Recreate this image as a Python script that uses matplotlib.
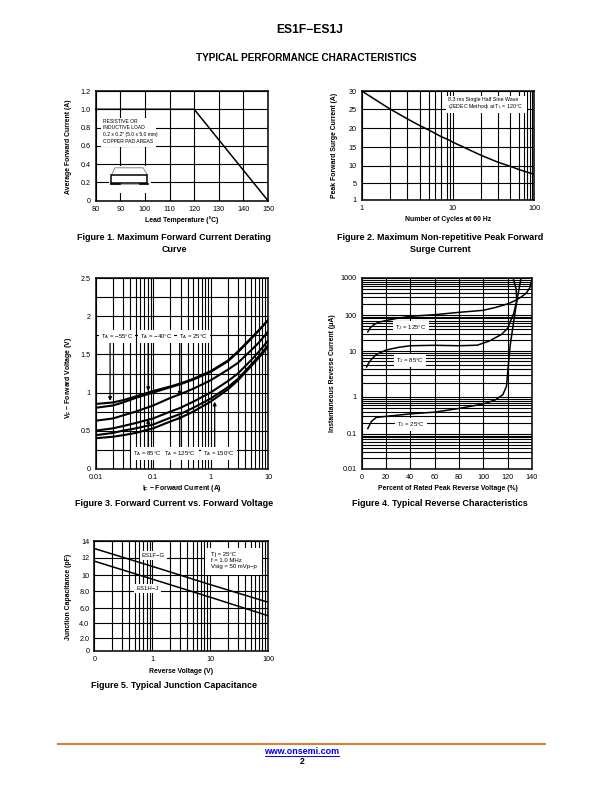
import numpy as np
import matplotlib
matplotlib.use("Agg")
import matplotlib.pyplot as plt
from matplotlib.patches import Rectangle

plt.rcParams['font.family'] = ['Liberation Sans', 'DejaVu Sans']
plt.rcParams['mathtext.default'] = 'regular'
plt.rcParams['axes.unicode_minus'] = False

# ---------- data ----------
fig1_temp = [80, 120, 150]
fig1_current = [1.0, 1.0, 0.0]

fig2_cycles = [1, 2, 3, 4, 5, 6, 7, 8, 9, 10, 20, 30, 40, 50, 100]
fig2_surge = [30, 25.1, 22.5, 20.7, 19.5, 18.7, 17.9, 17.2, 16.8, 16.4, 12.9, 11.0, 9.9, 9.0, 7.6]

fig3_current = [0.01, 0.02, 0.03, 0.05, 0.1, 0.2, 0.3, 0.5, 1, 2, 3, 5, 7, 10]
fig3_m55 = [0.85, 0.87, 0.90, 0.95, 1.02, 1.08, 1.12, 1.18, 1.28, 1.42, 1.54, 1.71, 1.82, 1.95]
fig3_m40 = [0.80, 0.83, 0.87, 0.93, 1.00, 1.07, 1.11, 1.17, 1.27, 1.41, 1.53, 1.70, 1.82, 1.95]
fig3_25 = [0.63, 0.66, 0.70, 0.75, 0.83, 0.93, 0.98, 1.05, 1.16, 1.30, 1.39, 1.55, 1.66, 1.80]
fig3_85 = [0.50, 0.53, 0.56, 0.60, 0.66, 0.75, 0.80, 0.88, 1.00, 1.15, 1.25, 1.42, 1.54, 1.68]
fig3_125 = [0.44, 0.47, 0.50, 0.53, 0.58, 0.67, 0.72, 0.80, 0.92, 1.07, 1.18, 1.36, 1.48, 1.62]
fig3_150 = [0.40, 0.42, 0.44, 0.47, 0.53, 0.62, 0.67, 0.75, 0.88, 1.04, 1.16, 1.34, 1.46, 1.60]

fig4_x125 = [5, 7, 10, 14, 20, 30, 40, 60, 80, 100, 110, 120, 125, 130, 135, 138, 140]
fig4_y125 = [34, 44, 54, 63, 70, 82, 92, 102, 118, 134, 160, 200, 235, 290, 380, 530, 900]
fig4_x85 = [4, 6, 8, 12, 20, 30, 40, 60, 80, 95, 105, 115, 120, 125, 128, 131]
fig4_y85 = [4.5, 5.6, 6.6, 8.4, 10.6, 12.6, 14, 14.4, 14, 14.5, 19, 29, 43, 112, 290, 1000]
fig4_x25 = [5, 8, 12, 20, 40, 60, 80, 100, 110, 116, 119, 120, 122, 124, 126, 127.5, 127, 124.5]
fig4_y25 = [0.14, 0.22, 0.28, 0.30, 0.35, 0.39, 0.49, 0.65, 0.84, 1.12, 1.7, 3.4, 13.8, 40, 112, 235, 500, 1000]

fig5_volt = [0.1, 1, 10, 100]
fig5_fg = [13.1, 11.0, 8.83, 6.7]
fig5_hj = [11.6, 9.5, 7.3, 5.0]

W, H = 612, 792
fig = plt.figure(figsize=(W / 100, H / 100), dpi=100, facecolor='white')


def make_ax(x0, x1, y0, y1):
    ax = fig.add_axes([x0 / W, 1 - y1 / H, (x1 - x0) / W, (y1 - y0) / H])
    for s in ax.spines.values():
        s.set_linewidth(1.1)
    ax.tick_params(which='both', length=0, labelsize=5.2, pad=3.5)
    ax.set_axisbelow(True)
    ax.grid(which='both', color='black', lw=0.8)
    return ax


def ptext(x, y, s, **kw):
    kw.setdefault('ha', 'center')
    kw.setdefault('va', 'center')
    return fig.text(x / W, 1 - y / H, s, **kw)


def label(x, y, s, fs=4.98):
    ptext(x, y, s, fontsize=fs, fontweight='bold')


def ylab(x, y, s):
    ptext(x, y, s, fontsize=4.98, fontweight='bold', rotation=90)


def caption(x, y, s):
    ptext(x, y, s, fontsize=6.45, fontweight='bold')


def note(ax, x, y, s, fs=4.3, **kw):
    kw.setdefault('ha', 'center')
    kw.setdefault('va', 'center')
    ax.text(x, y, s, transform=ax.transAxes, fontsize=fs, zorder=6,
            bbox=dict(fc='white', ec='none', pad=1.5), **kw)


def warp(ax, axis, values, positions, log=False):
    """Scale following the hand-drawn, uneven spacing of the original grids."""
    v = np.array(values, float)
    p = np.array(positions, float)
    if log:
        v = np.log10(v)

    def fwd(a):
        a = np.asarray(a, float)
        if log:
            a = np.log10(np.maximum(a, 1e-12))
        return np.interp(a, v, p)

    def inv(a):
        r = np.interp(np.asarray(a, float), p, v)
        return 10 ** r if log else r
    (ax.set_xscale if axis == 'x' else ax.set_yscale)('function', functions=(fwd, inv))


def log_minor(lo, hi):
    return [m * 10.0 ** e for e in range(lo, hi) for m in range(2, 10)]


# ---------- page ----------
ptext(310, 30, 'ES1F\u2212ES1J', fontsize=8.7, fontweight='bold')
ptext(306, 57.7, 'TYPICAL PERFORMANCE CHARACTERISTICS', fontsize=7.2, fontweight='bold')
fig.add_artist(plt.Line2D([58 / W, 545 / W], [1 - 744 / H] * 2, color='#d98032', lw=1.5))
ptext(302, 752, 'www.onsemi.com', fontsize=6.4, fontweight='bold', color='#0000ee')
fig.add_artist(plt.Line2D([265 / W, 339 / W], [1 - 756 / H] * 2, color='#0000ee', lw=0.7))
ptext(302, 762, '2', fontsize=6.2, fontweight='bold')

# ---------- figure 1 ----------
ax = make_ax(95.7, 268, 91, 200.7)
ax.set_xlim(80, 150)
ax.set_ylim(0, 1.2)
ax.set_xticks(range(80, 151, 10))
ax.set_yticks([0, .2, .4, .6, .8, 1.0, 1.2])
ax.set_yticklabels(['0', '0.2', '0.4', '0.6', '0.8', '1.0', '1.2'])
ax.plot(fig1_temp, fig1_current, color='black', lw=1.1, zorder=3, clip_on=False)
ax.add_patch(Rectangle((0.03, 0.49), 0.32, 0.26, transform=ax.transAxes, fc='white', ec='none', zorder=2))
ax.add_patch(Rectangle((0.08, 0.07), 0.24, 0.25, transform=ax.transAxes, fc='white', ec='none', zorder=2))
for i, s in enumerate(['RESISTIVE OR', 'INDUCTIVE LOAD',
                       '0.2 x 0.2" (5.0 x 5.0 mm)', 'COPPER PAD AREAS']):
    ax.text(0.045, 0.725 - i * 0.062, s, transform=ax.transAxes, fontsize=3.6, va='center', zorder=6)
t = ax.transAxes
ax.plot([.092, .112, .275, .30], [.235, .30, .30, .235], color='#777777', lw=.6, transform=t, zorder=4)
ax.add_patch(Rectangle((.09, .16), .21, .07, transform=t, fc='none', ec='black', lw=1.1, zorder=4))
ax.plot([.09, .30], [.155, .155], color='#aaaaaa', lw=.8, transform=t, zorder=4)
ax.plot([.09, .14], [.155, .155], color='black', lw=1.2, transform=t, zorder=5)
ax.plot([.255, .305], [.155, .155], color='black', lw=1.2, transform=t, zorder=5)
label(182, 220, 'Lead Temperature (\u00b0C)')
ylab(69, 147, 'Average Forward Current (A)')
caption(174, 238, 'Figure 1. Maximum Forward Current Derating')
caption(174, 249, 'Curve')

# ---------- figure 2 ----------
ax = make_ax(361.7, 534, 91, 200)
warp(ax, 'x', [1, 2, 3, 4, 5, 6, 7, 8, 9, 10, 20, 30, 40, 50, 60, 70, 80, 90, 100],
     [125, 210, 262, 300, 328, 345, 362, 380, 390, 398, 483, 535, 572, 597, 612, 622, 630, 637, 643], log=True)
warp(ax, 'y', [1, 5, 10, 15, 20, 25, 30], [-360, -310, -258, -202, -145, -88, -33])
ax.set_xlim(1, 100)
ax.set_ylim(1, 30)
ax.set_xticks([1, 10, 100])
ax.set_xticklabels(['1', '10', '100'])
ax.set_xticks(log_minor(0, 2), minor=True)
ax.set_xticklabels([], minor=True)
ax.set_yticks([1, 5, 10, 15, 20, 25, 30])
ax.set_yticklabels(['1', '5', '10', '15', '20', '25', '30'])
ax.plot(fig2_cycles, fig2_surge, color='black', lw=1.1, zorder=3)
ax.add_patch(Rectangle((.49, .80), .47, .155, transform=ax.transAxes, fc='white', ec='none', zorder=2))
ax.text(.503, .924, '8.3 ms Single Half Sine Wave', transform=ax.transAxes,
        fontsize=3.75, ha='left', va='center', zorder=6)
ax.text(.503, .858, '(JEDEC Method) at T$_L$ = 120\u00b0C', transform=ax.transAxes,
        fontsize=3.75, ha='left', va='center', zorder=6)
label(448, 219.5, 'Number of Cycles at 60 Hz')
ylab(334.5, 145, 'Peak Forward Surge Current (A)')
caption(440, 238, 'Figure 2. Maximum Non-repetitive Peak Forward')
caption(440, 249, 'Surge Current')

# ---------- figure 3 ----------
ax = make_ax(95.7, 268, 278.3, 468.7)
ax.set_xscale('log')
ax.set_xlim(0.01, 10)
ax.set_ylim(0, 2.5)
ax.set_xticks([0.01, 0.1, 1, 10])
ax.set_xticklabels(['0.01', '0.1', '1', '10'])
ax.set_xticks(log_minor(-2, 1), minor=True)
ax.set_xticklabels([], minor=True)
ax.set_yticks([0, .5, 1, 1.5, 2, 2.5])
ax.set_yticklabels(['0', '0.5', '1', '1.5', '2', '2.5'])
ax.set_yticks([.25, .75, 1.25, 1.75, 2.25], minor=True)
ax.set_yticklabels([], minor=True)
for v in (fig3_m55, fig3_m40, fig3_25, fig3_85, fig3_125, fig3_150):
    ax.plot(fig3_current, v, color='black', lw=1.5, zorder=3, solid_joinstyle='round')
for x, y0, y1 in [(.0178, 1.67, .89), (.082, 1.67, 1.02), (.29, 1.67, .96),
                  (.082, .25, .65), (.29, .25, .71), (1.18, .25, .88)]:
    ax.annotate('', xy=(x, y1), xytext=(x, y0), zorder=4,
                arrowprops=dict(arrowstyle='-|>', color='black', lw=.9, mutation_scale=5,
                                shrinkA=0, shrinkB=0))
for x, s in [(.122, '\u221255'), (.348, '\u221240'), (.566, '25')]:
    note(ax, x, 0.695, 'T$_A$ = ' + s + '\u00b0C')
for x, s in [(.299, '85'), (.492, '125'), (.716, '150')]:
    note(ax, x, 0.08, 'T$_A$ = ' + s + '\u00b0C')
label(182, 489, 'I$_F$ \u2212 Forward Current (A)')
ylab(68, 378, 'V$_F$ \u2212 Forward Voltage (V)')
caption(174, 504, 'Figure 3. Forward Current vs. Forward Voltage')

# ---------- figure 4 ----------
ax = make_ax(361.7, 532, 278, 469)
warp(ax, 'y', [0.01, 0.1, 1, 10, 100, 1000], [0, 35, 72, 118, 154, 191], log=True)
ax.set_xlim(0, 140)
ax.set_ylim(0.01, 1000)
ax.set_xticks(range(0, 141, 20))
ax.set_yticks([0.01, 0.1, 1, 10, 100, 1000])
ax.set_yticklabels(['0.01', '0.1', '1', '10', '100', '1000'])
ax.set_yticks(log_minor(-2, 3), minor=True)
ax.set_yticklabels([], minor=True)
ax.plot(fig4_x125, fig4_y125, color='black', lw=1.1, zorder=3)
ax.plot(fig4_x85, fig4_y85, color='black', lw=1.1, zorder=3)
ax.plot(fig4_x25, fig4_y25, color='black', lw=1.1, zorder=3)
note(ax, .29, .74, 'T$_J$ = 125\u00b0C')
note(ax, .285, .57, 'T$_J$ = 85\u00b0C')
note(ax, .29, .235, 'T$_J$ = 25\u00b0C')
label(448, 488.5, 'Percent of Rated Peak Reverse Voltage (%)')
ylab(333, 373, 'Instantaneous Reverse Current (\u03bcA)')
caption(440, 504, 'Figure 4. Typical Reverse Characteristics')

# ---------- figure 5 ----------
ax = make_ax(94.3, 268, 541, 650.7)
ax.set_xscale('log')
warp(ax, 'y', [0, 2, 4, 6, 8, 10, 12, 14], [-362, -325, -280, -234, -184, -135, -83, -33])
ax.set_xlim(0.1, 100)
ax.set_ylim(0, 14)
ax.set_xticks([0.1, 1, 10, 100])
ax.set_xticklabels(['0', '1', '10', '100'])
ax.set_xticks(log_minor(-1, 2), minor=True)
ax.set_xticklabels([], minor=True)
ax.set_yticks([0, 2, 4, 6, 8, 10, 12, 14])
ax.set_yticklabels(['0', '2.0', '4.0', '6.0', '8.0', '10', '12', '14'])
ax.plot(fig5_volt, fig5_fg, color='black', lw=1.1, zorder=3)
ax.plot(fig5_volt, fig5_hj, color='black', lw=1.1, zorder=3)
note(ax, .339, .871, 'ES1F\u2212G')
note(ax, .307, .57, 'ES1H\u2212J')
ax.add_patch(Rectangle((.64, .69), .325, .25, transform=ax.transAxes, fc='white', ec='none', zorder=2))
ax.text(.67, .82, 'Tj = 25\u00b0C\nf = 1.0 MHz\nVsig = 50 mVp\u2212p', transform=ax.transAxes,
        fontsize=4.3, ha='left', va='center', linespacing=1.25, zorder=6)
label(181, 671.5, 'Reverse Voltage (V)')
ylab(68, 597, 'Junction Capacitance (pF)')
caption(174, 686, 'Figure 5. Typical Junction Capacitance')

fig.savefig('out.png', dpi=100)
